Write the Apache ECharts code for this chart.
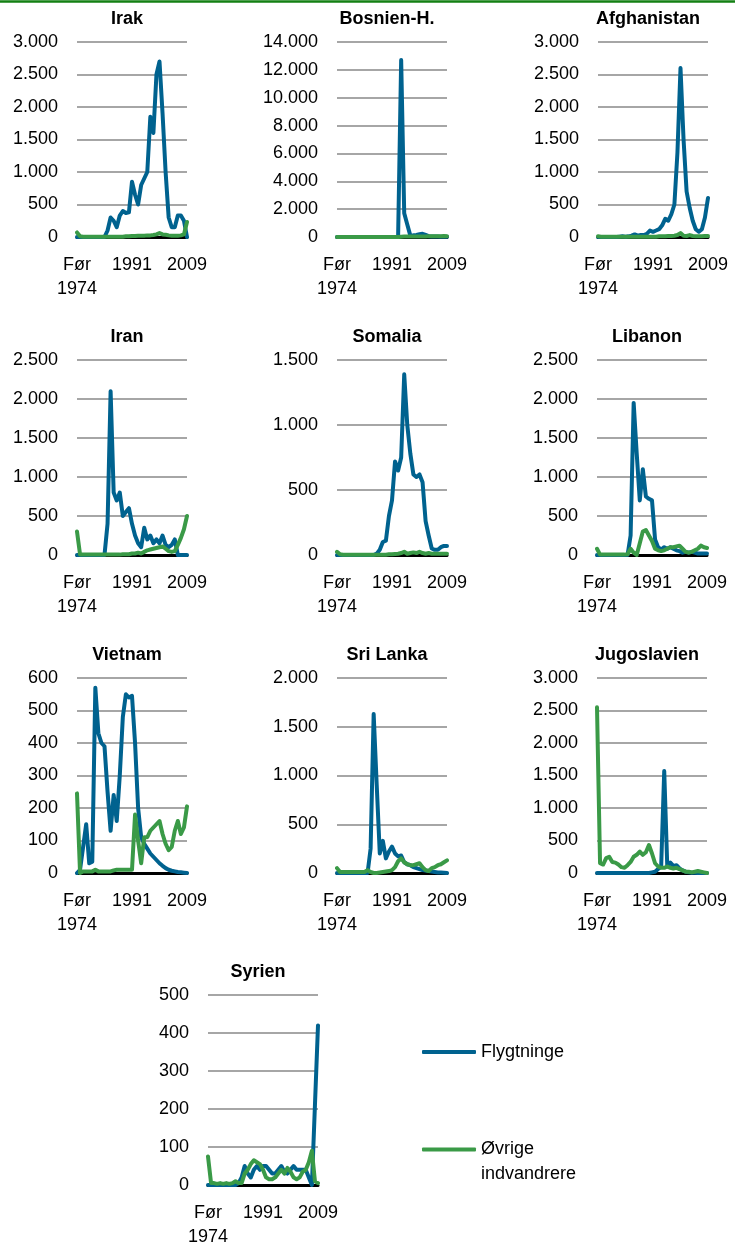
<!DOCTYPE html>
<html>
<head>
<meta charset="utf-8">
<script src="https://cdn.jsdelivr.net/npm/echarts@6/dist/echarts.min.js"></script>
<style>
html,body{margin:0;padding:0;background:#fff;}
#chart{width:735px;height:1249px;}
</style>
</head>
<body>
<div id="chart"></div>
<script>
// ---- categories ----
const categories = ['Før 1974'];
for (let y = 1974; y <= 2009; y++) categories.push(String(y));

const seriesNames = ['Flygtninge', 'Øvrige indvandrere'];
const titles = ['Irak','Bosnien-H.','Afghanistan','Iran','Somalia','Libanon','Vietnam','Sri Lanka','Jugoslavien','Syrien'];

// ---- data (Flygtninge / Øvrige indvandrere), 37 points each ----
const irakFly = [0,0,0,0,0,0,0,0,0,0,100,300,250,150,330,400,370,380,850,650,500,800,900,1000,1850,1600,2500,2700,1900,1000,300,150,150,330,330,250,0];
const irakOvr = [70,10,5,5,5,5,5,5,5,5,5,5,5,5,5,5,10,10,15,15,20,20,20,25,25,30,40,60,40,35,25,20,20,20,25,40,230];

const bosFly = [0,0,0,0,0,0,0,0,0,0,0,0,0,0,0,0,0,0,0,0,0,12700,1700,900,100,120,150,200,230,150,60,40,30,30,20,20,20];
const bosOvr = [0,0,0,0,0,0,0,0,0,0,0,0,0,0,0,0,0,0,0,0,0,20,30,30,30,30,30,30,40,40,50,50,50,60,60,70,60];

const afgFly = [0,0,0,0,0,0,0,5,10,5,10,20,40,20,30,30,50,100,80,100,120,180,280,250,350,500,1300,2600,1500,700,450,250,120,80,120,300,600];
const afgOvr = [10,5,5,5,5,5,5,5,5,5,5,5,5,5,5,5,5,5,5,5,10,10,10,15,15,20,30,60,20,15,30,15,10,10,10,15,15];

const iranFly = [0,0,0,0,0,0,0,0,0,0,400,2100,800,700,800,500,550,600,400,250,150,100,350,200,250,150,200,150,250,130,100,130,200,0,0,0,0];
const iranOvr = [300,5,5,5,5,5,5,5,5,5,5,5,5,5,5,10,10,10,20,20,30,20,40,60,70,80,90,100,110,80,50,40,50,130,220,330,500];

const somFly = [0,0,0,0,0,0,0,0,0,0,0,0,0,10,40,100,110,300,420,720,650,750,1390,1000,780,620,600,620,560,260,150,50,40,40,60,70,70];
const somOvr = [25,5,2,2,2,2,2,2,2,2,2,2,2,2,2,2,2,5,5,8,10,15,25,10,15,20,15,25,15,10,15,10,10,10,10,10,10];

const libFly = [0,0,0,0,0,0,0,0,0,0,0,250,1950,1300,700,1100,750,720,700,200,100,70,100,80,100,80,60,50,30,40,30,40,30,20,20,20,20];
const libOvr = [80,5,5,5,5,5,5,5,5,5,10,80,30,0,150,300,320,250,180,80,60,50,60,80,100,100,110,120,80,40,30,40,60,80,120,100,90];

const vietFly = [0,10,80,150,30,35,570,430,400,390,250,130,240,160,300,480,550,540,545,400,200,110,90,75,60,50,40,30,22,15,10,7,5,3,2,1,0];
const vietOvr = [245,0,5,5,5,5,10,5,5,5,5,5,8,10,10,10,10,10,10,180,100,30,110,110,130,140,150,160,120,90,70,80,130,160,120,140,205];

const sriFly = [0,0,0,0,0,0,0,0,0,0,0,250,1630,900,200,330,150,220,270,200,170,180,110,90,80,60,50,40,30,25,20,15,10,5,5,3,0];
const sriOvr = [50,10,10,10,10,10,10,10,10,10,30,10,0,0,5,10,15,20,30,60,120,150,110,90,80,80,90,100,60,30,20,50,60,80,90,110,130];

const jugFly = [0,0,0,0,0,0,0,0,0,0,0,0,0,0,0,0,0,0,10,20,60,100,1570,100,160,110,120,70,40,20,10,5,5,0,0,0,0];
const jugOvr = [2550,150,130,230,250,170,160,130,90,80,120,170,250,280,330,280,320,430,300,150,100,80,80,100,80,70,80,60,40,20,20,10,20,30,20,10,0];

const syrFly = [0,0,0,0,0,0,0,0,0,0,5,20,50,30,20,40,50,40,50,50,40,30,30,40,50,35,30,40,50,40,40,40,40,20,0,210,420];
const syrOvr = [75,5,5,3,5,3,5,3,5,10,5,5,30,40,55,65,60,55,40,20,15,15,20,30,40,30,45,35,20,15,20,35,40,60,90,10,5];

// ---- y-axis scales (max, step) ----
const yMax  = [3000,14000,3000,2500,1500,2500,600,2000,3000,500];
const yStep = [500,2000,500,500,500,500,100,500,500,100];

const flyData = [irakFly,bosFly,afgFly,iranFly,somFly,libFly,vietFly,sriFly,jugFly,syrFly];
const ovrData = [irakOvr,bosOvr,afgOvr,iranOvr,somOvr,libOvr,vietOvr,sriOvr,jugOvr,syrOvr];

// ---- layout ----
const plotLeft = [77,337,598, 77,337,597, 77,337,597, 208];
const plotTop  = [42,42,42, 360,360,360, 678,678,678, 995];
const plotW = 110, plotH = 195;

const BLUE = '#00628F', GREEN = '#3A9A47';
const FONT = 'Liberation Sans';
const fmt = v => String(v).replace(/\B(?=(\d{3})+(?!\d))/g, '.');

const grid = [], xAxis = [], yAxis = [], series = [], title = [];
titles.forEach((t, i) => {
  grid.push({left: plotLeft[i], top: plotTop[i], width: plotW, height: plotH, containLabel: false});
  title.push({
    text: t, left: plotLeft[i] + plotW/2 - 5, top: plotTop[i] - 34, textAlign: 'center', padding: 0,
    textStyle: {fontFamily: FONT, fontSize: 18, fontWeight: 'bold', color: '#000', lineHeight: 22}
  });
  xAxis.push({
    type: 'category', gridIndex: i, data: categories, boundaryGap: false,
    axisLine: {show: true, lineStyle: {color: '#000', width: 3}},
    axisTick: {show: false},
    axisLabel: {
      interval: 17, margin: 16, fontFamily: FONT, fontSize: 18, color: '#000', lineHeight: 24,
      verticalAlign: 'top',
      formatter: v => v.replace(' ', '\n')
    },
    splitLine: {show: false}
  });
  yAxis.push({
    type: 'value', gridIndex: i, min: 0, max: yMax[i], interval: yStep[i],
    axisLine: {show: false}, axisTick: {show: false},
    axisLabel: {margin: 19, fontFamily: FONT, fontSize: 18, color: '#000', formatter: fmt},
    splitLine: {show: true, lineStyle: {color: '#A6A6A6', width: 2}}
  });
  series.push({
    name: seriesNames[0], type: 'line', xAxisIndex: i, yAxisIndex: i, data: flyData[i],
    showSymbol: false, symbol: 'none', animation: false, color: BLUE,
    lineStyle: {color: BLUE, width: 4, join: 'round', cap: 'round'}
  });
  series.push({
    name: seriesNames[1], type: 'line', xAxisIndex: i, yAxisIndex: i, data: ovrData[i],
    showSymbol: false, symbol: 'none', animation: false, color: GREEN,
    lineStyle: {color: GREEN, width: 4, join: 'round', cap: 'round'}
  });
});

const chart = echarts.init(document.getElementById('chart'), null, {renderer: 'canvas'});
chart.setOption({
  animation: false,
  backgroundColor: '#fff',
  title: title,
  grid: grid, xAxis: xAxis, yAxis: yAxis, series: series,
  legend: [
    {
      data: [seriesNames[0]], left: 422, top: 1040, orient: 'vertical', padding: 0,
      icon: 'roundRect', itemWidth: 54, itemHeight: 4,
      textStyle: {fontFamily: FONT, fontSize: 18, color: '#000', lineHeight: 24}
    },
    {
      data: [seriesNames[1]], left: 422, top: 1112, orient: 'vertical', padding: 0,
      icon: 'roundRect', itemWidth: 54, itemHeight: 4,
      formatter: n => '{p| }\n{a|' + n.split(' ')[0] + '}\n{a|' + n.split(' ')[1] + '}',
      textStyle: {
        fontFamily: FONT, fontSize: 18, color: '#000', lineHeight: 25,
        rich: {
          p: {fontFamily: FONT, fontSize: 18, lineHeight: 25, color: '#000'},
          a: {fontFamily: FONT, fontSize: 18, lineHeight: 25, color: '#000'}
        }
      }
    }
  ],
  graphic: [
    {type: 'line', shape: {x1: 0, y1: 1.5, x2: 735, y2: 1.5}, style: {stroke: '#138013', lineWidth: 2.5}}
  ]
});
</script>
</body>
</html>
